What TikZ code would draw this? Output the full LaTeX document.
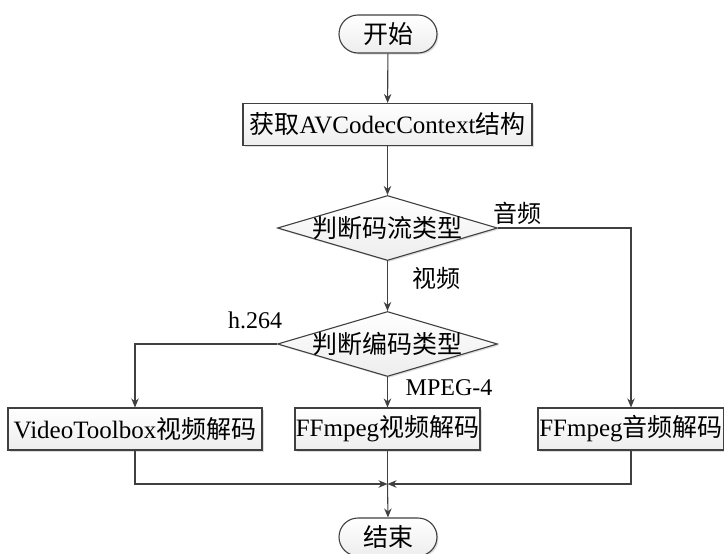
\documentclass[tikz,border=0pt]{standalone}
\usepackage{fontspec}
\setmainfont{Liberation Serif}
\newfontfamily\cjk{Noto Sans CJK SC}
\usetikzlibrary{shapes.geometric,shapes.misc,shadows,arrows.meta}
\definecolor{linec}{HTML}{404040}
\tikzset{
  base/.style={draw=linec, line width=1.1pt, top color=white, bottom color=gray!14,
    drop shadow={shadow xshift=1.5pt, shadow yshift=-1.5pt, fill=gray!45, opacity=0.6},
    font=\fontsize{25}{27}\selectfont, inner sep=0pt},
  term/.style={base, rounded rectangle, minimum width=98pt, minimum height=38pt},
  proc/.style={base, rectangle, minimum height=42pt},
  dia/.style={base, diamond, minimum width=220pt, minimum height=65pt, aspect=3.4},
  txt/.style={font=\fontsize{25}{27}\selectfont, inner sep=0pt},
  lbl/.style={font=\fontsize{24}{26}\selectfont, inner sep=0pt},
  arr/.style={draw=linec, line width=1.1pt, -{Stealth[length=9pt,width=7.5pt]}},
  ln/.style={draw=linec, line width=1.1pt}
}
\begin{document}
\begin{tikzpicture}[x=1pt,y=-1pt]
\useasboundingbox (0,0) rectangle (724,554);
\node[term] (start) at (388,34) {\cjk 开始};
\node[proc, minimum width=289pt] (r1) at (387.5,124.5) {{\cjk 获取}AVCodecContext{\cjk 结构}};
\node[dia] (d1) at (387.5,228) {};
\node[txt] (d1t) at (d1) {\cjk 判断码流类型};
\node[dia] (d2) at (387.5,344) {};
\node[txt] (d2t) at (d2) {\cjk 判断编码类型};
\node[proc, minimum width=254pt] (vt) at (135,429) {VideoToolbox{\cjk 视频解码}};
\node[proc, minimum width=185pt] (ffv) at (387.5,429) {FFmpeg{\cjk 视频解码}};
\node[proc, minimum width=186pt] (aud) at (631,429) {FFmpeg{\cjk 音频解码}};
\node[term] (end) at (388,537) {\cjk 结束};
\coordinate (j) at (387.5,484);

\node[lbl] (l1) at (517,213) {\cjk 音频};
\node[lbl] (l2) at (436,278) {\cjk 视频};
\node[lbl] (l3) at (255,320) {h.264};
\node[lbl] (l4) at (449,388) {MPEG-4};

\draw[arr] (start) -- (r1);
\draw[arr] (r1) -- (d1);
\draw[arr] (d1.east) -| (aud.north);
\draw[arr] (d1.south) -- (d2.north);
\draw[arr] (d2.west) -| (vt.north);
\draw[arr] (d2.south) -- (ffv.north);
\draw[ln] (ffv.south) -- (j);
\draw[arr] (vt.south) |- (j);
\draw[arr] (aud.south) |- (j);
\draw[arr] (j) -- (end.north);
\end{tikzpicture}
\end{document}
